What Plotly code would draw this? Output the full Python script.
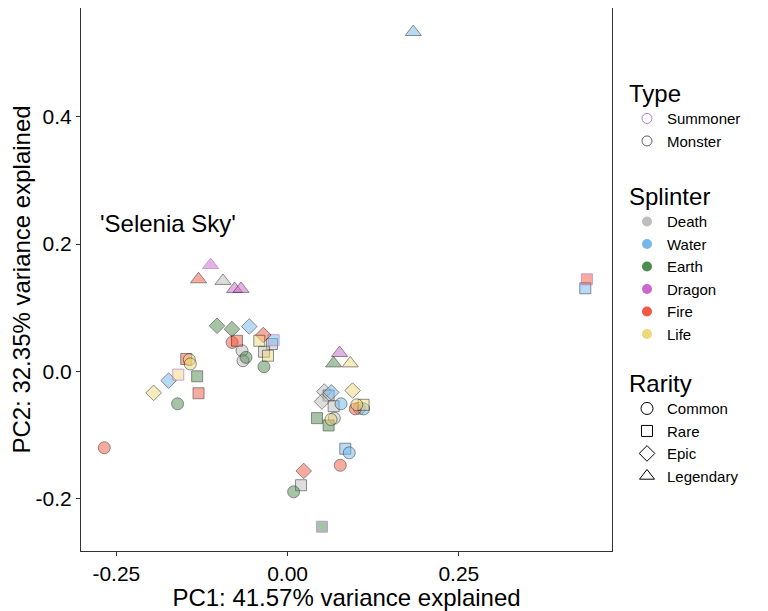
import plotly.graph_objects as go

# ---- data ----
pc1 = [
    # Death
    -0.0943, -0.0666, -0.0651, -0.0228, -0.0345, 0.0536, 0.0599, 0.0502, 0.0672, 0.1047, 0.0682, 0.0196,
    # Water
    0.1835, 0.4346, -0.0559, -0.0204, -0.1737, 0.0638, 0.0780, 0.1110, 0.0842, 0.0900,
    # Earth
    -0.1030, -0.0812, -0.0607, -0.0345, -0.1320, -0.1606, 0.0672, 0.0429, 0.0599, 0.0088, 0.0502,
    # Dragon
    -0.1124, -0.0774, -0.0680, 0.0759,
    # Fire
    -0.1300, 0.4370, -0.0355, -0.0810, -0.0739, -0.1480, -0.1300, 0.0988, 0.0769, 0.0235, -0.2676,
    # Life
    -0.0413, -0.0286, -0.1435, -0.1420, -0.1596, -0.1956, 0.0915, 0.0949, 0.1110, 0.1010, 0.0634,
]
pc2 = [
    0.1420, 0.0324, 0.0167, 0.0429, 0.0308, -0.0318, -0.0380, -0.0474, -0.0548, -0.0580, -0.0735, -0.1789,
    0.5330, 0.1305, 0.0704, 0.0490, -0.0146, -0.0330, -0.0510, -0.0590, -0.1215, -0.1280,
    0.0715, 0.0663, 0.0219, 0.0073, -0.0078, -0.0510, 0.0125, -0.0735, -0.0850, -0.1893, -0.2440,
    0.1670, 0.1294, 0.1294, 0.0288,
    0.1446, 0.1446, 0.0570, 0.0454, 0.0480, 0.0194, -0.0344, -0.0589, -0.1476, -0.1565, -0.1200,
    0.0480, 0.0245, 0.0183, 0.0116, -0.0052, -0.0338, 0.0125, -0.0302, -0.0526, -0.0526, -0.0756,
]
splinter = (["Death"] * 12 + ["Water"] * 10 + ["Earth"] * 11 + ["Dragon"] * 4
            + ["Fire"] * 11 + ["Life"] * 11)
rarity = [
    "Legendary", "Common", "Common", "Rare", "Rare", "Epic", "Rare", "Epic", "Rare", "Common", "Common", "Rare",
    "Legendary", "Rare", "Epic", "Rare", "Epic", "Epic", "Common", "Common", "Rare", "Common",
    "Epic", "Epic", "Common", "Common", "Rare", "Common", "Legendary", "Rare", "Rare", "Common", "Rare",
    "Legendary", "Legendary", "Legendary", "Legendary",
    "Legendary", "Rare", "Epic", "Common", "Rare", "Rare", "Rare", "Common", "Common", "Epic", "Common",
    "Rare", "Rare", "Common", "Common", "Rare", "Epic", "Legendary", "Epic", "Rare", "Common", "Common",
]
summoner_idx = [15, 32, 33, 38, 52]
card_type = ["Summoner" if i in summoner_idx else "Monster" for i in range(len(pc1))]

type_levels = ["Summoner", "Monster"]
splinter_levels = ["Death", "Water", "Earth", "Dragon", "Fire", "Life"]
rarity_levels = ["Common", "Rare", "Epic", "Legendary"]

x_ticks = [-0.25, 0.0, 0.25]
x_tick_labels = ["-0.25", "0.00", "0.25"]
y_ticks = [-0.2, 0.0, 0.2, 0.4]
y_tick_labels = ["-0.2", "0.0", "0.2", "0.4"]

# ---- styles ----
splinter_rgb = {
    "Death": (190, 190, 190),
    "Water": (116, 185, 235),
    "Earth": (77, 139, 79),
    "Dragon": (204, 102, 204),
    "Fire": (240, 89, 64),
    "Life": (238, 216, 121),
}
rarity_symbol = {"Common": "circle", "Rare": "square", "Epic": "diamond", "Legendary": "triangle-up"}
rarity_size = {"Common": 12, "Rare": 11, "Epic": 12, "Legendary": 14}
type_line = {"Summoner": "rgba(170,100,205,0.85)", "Monster": "rgba(30,30,30,0.7)"}
FONT = "Liberation Sans, Arial, sans-serif"

W, H = 760, 603  # page adds an 8px body margin

fill = ["rgba(%d,%d,%d,0.72)" % splinter_rgb[s] for s in splinter]

fig = go.Figure()
fig.add_trace(go.Scatter(
    x=pc1, y=pc2, mode="markers", showlegend=False, hoverinfo="x+y",
    marker=dict(
        symbol=[rarity_symbol[r] for r in rarity],
        size=[rarity_size[r] for r in rarity],
        color=fill,
        line=dict(color=[type_line[t] for t in card_type], width=1),
    ),
))

for t in type_levels:
    fig.add_trace(go.Scatter(
        x=[None], y=[None], mode="markers", name=t, legend="legend",
        marker=dict(symbol="circle-open", size=10, color=type_line[t], line=dict(width=1)),
    ))
for s in splinter_levels:
    fig.add_trace(go.Scatter(
        x=[None], y=[None], mode="markers", name=s, legend="legend2",
        marker=dict(symbol="circle", size=10, color="rgb(%d,%d,%d)" % splinter_rgb[s]),
    ))
for r in rarity_levels:
    fig.add_trace(go.Scatter(
        x=[None], y=[None], mode="markers", name=r, legend="legend3",
        marker=dict(symbol=rarity_symbol[r] + "-open", size=rarity_size[r] if r != "Legendary" else 13,
                    color="black", line=dict(width=1)),
    ))

fig.add_annotation(x=-0.174, y=0.2327, text="'Selenia Sky'", showarrow=False,
                   font=dict(family=FONT, size=24, color="black"), xanchor="center", yanchor="middle")

axis_common = dict(
    showgrid=False, zeroline=False, showline=True, mirror=True,
    linecolor="#333333", linewidth=1, ticks="outside", ticklen=4, tickcolor="#333333",
    tickfont=dict(family=FONT, size=21, color="black"),
)
fig.update_xaxes(range=[-0.3016, 0.4736], tickvals=x_ticks, ticktext=x_tick_labels,
                 title=dict(text="PC1: 41.57% variance explained", font=dict(family=FONT, size=24, color="black"), standoff=0),
                 **axis_common)
fig.update_yaxes(range=[-0.2822, 0.5707], tickvals=y_ticks, ticktext=y_tick_labels,
                 title=dict(text="PC2: 32.35% variance explained", font=dict(family=FONT, size=24, color="black"), standoff=4),
                 **axis_common)

legend_common = dict(
    xref="container", yref="container", xanchor="left", yanchor="top",
    font=dict(family=FONT, size=15, color="black"), bgcolor="rgba(0,0,0,0)",
    itemclick=False, itemdoubleclick=False,
)
LX = 619 / W
fig.update_layout(
    width=W, height=H,
    margin=dict(l=73, r=156, t=0, b=60),
    paper_bgcolor="white", plot_bgcolor="white",
    font=dict(family=FONT, color="black"),
    legend=dict(x=LX, y=1 - 63 / H,
                title=dict(text="Type", font=dict(family=FONT, size=24)), **legend_common),
    legend2=dict(x=LX, y=1 - 166 / H,
                 title=dict(text="Splinter", font=dict(family=FONT, size=24)), **legend_common),
    legend3=dict(x=LX, y=1 - 353 / H,
                 title=dict(text="Rarity", font=dict(family=FONT, size=24)), **legend_common),
)

fig.write_html("out.html")
